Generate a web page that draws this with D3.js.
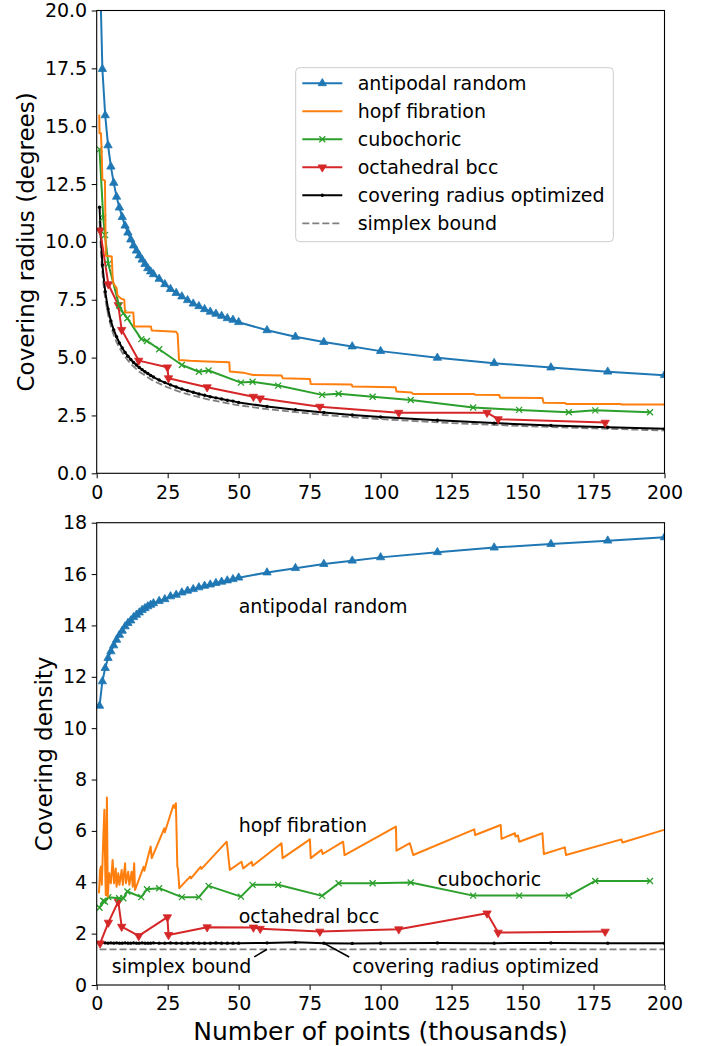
<!DOCTYPE html>
<html>
<head>
<meta charset="utf-8">
<script src="https://cdn.jsdelivr.net/npm/d3@7"></script>
<style>
  body { margin: 0; background: #fff; }
  svg { display: block; font-family: 'DejaVu Sans', sans-serif; }
</style>
</head>
<body>
<svg id="chart" width="705" height="1046"></svg>
<script>
// number of points (thousands) for the random / optimized runs
const denseN = [1, 2, 3, 4, 5, 6, 7, 8, 9, 10, 11, 12, 13, 14, 15, 16, 17, 18, 19, 20,
  22, 24, 26, 28, 30, 32, 34, 36, 38, 40, 42, 44, 46, 48, 50,
  60, 70, 80, 90, 100, 120, 140, 160, 180, 200]

const antipodalRadius = [22.5, 17.47, 15.47, 14.17, 13.25, 12.55, 11.95, 11.48, 11.07, 10.7,
  10.4, 10.1, 9.84, 9.62, 9.41, 9.23, 9.04, 8.86, 8.72, 8.6,
  8.4, 8.17, 7.96, 7.79, 7.64, 7.48, 7.33, 7.22, 7.09, 6.98,
  6.89, 6.8, 6.7, 6.63, 6.53, 6.18, 5.9, 5.67, 5.48, 5.28,
  4.99, 4.76, 4.57, 4.39, 4.24]
const antipodalDensity = [10.87, 11.82, 12.34, 12.73, 12.99, 13.22, 13.44, 13.63, 13.79, 13.96,
  14.09, 14.19, 14.32, 14.41, 14.5, 14.6, 14.67, 14.74, 14.8, 14.86,
  14.95, 15.02, 15.13, 15.19, 15.28, 15.35, 15.41, 15.48, 15.54, 15.59,
  15.65, 15.7, 15.75, 15.8, 15.86, 16.06, 16.23, 16.39, 16.52, 16.65,
  16.85, 17.03, 17.17, 17.3, 17.43]

const optimizedRadius = [11.5, 9.0, 7.85, 7.1, 6.58, 6.2, 5.9, 5.63, 5.42, 5.22,
  5.06, 4.92, 4.79, 4.68, 4.57, 4.48, 4.39, 4.31, 4.23, 4.16,
  4.03, 3.92, 3.82, 3.73, 3.64, 3.57, 3.5, 3.43, 3.37, 3.31,
  3.26, 3.21, 3.16, 3.12, 3.06, 2.89, 2.75, 2.63, 2.52, 2.43,
  2.29, 2.17, 2.07, 1.99, 1.92]
const optimizedDensity = [1.62, 1.66, 1.64, 1.63, 1.64, 1.63, 1.64, 1.63, 1.63, 1.64,
  1.63, 1.63, 1.64, 1.63, 1.63, 1.64, 1.63, 1.63, 1.63, 1.64,
  1.63, 1.63, 1.64, 1.63, 1.63, 1.63, 1.64, 1.63, 1.63, 1.63,
  1.64, 1.63, 1.63, 1.63, 1.63, 1.64, 1.66, 1.63, 1.62, 1.63,
  1.64, 1.63, 1.64, 1.63, 1.63]

const hopfRadiusN = [0.9, 1.0, 1.5, 1.8, 2.0, 2.9, 3.2, 5.3, 5.6, 5.9,
  7.0, 7.3, 7.6, 8.6, 9.7, 10.0, 12.9, 13.2, 19.1, 19.4,
  27.9, 28.5, 29.0, 32.9, 38.7, 46.7, 46.9, 51.6, 55.1, 65.1,
  65.5, 75.1, 75.4, 89.8, 90.1, 105.3, 105.6, 110.9, 111.5, 133.0,
  133.4, 141.8, 142.1, 157.0, 157.4, 165.0, 165.3, 184.6, 184.8, 200]
const hopfRadius = [15.5, 14.7, 14.7, 13.7, 12.7, 12.65, 9.4, 9.37, 8.5, 8.2,
  8.0, 7.7, 7.65, 7.55, 7.5, 6.95, 6.95, 6.34, 6.34, 6.17,
  6.12, 6.03, 4.9, 4.86, 4.83, 4.8, 4.4, 4.35, 4.25, 4.23,
  4.11, 4.08, 3.86, 3.84, 3.75, 3.72, 3.53, 3.49, 3.43, 3.43,
  3.39, 3.38, 3.27, 3.25, 3.05, 3.04, 3.0, 2.99, 2.97, 2.97]

const hopfDensityN = [0.8, 1.2, 1.5, 1.8, 2.3, 2.7, 3.0, 3.2, 3.6, 3.9,
  4.4, 5.0, 5.6, 6.1, 6.7, 7.0, 7.6, 8.0, 8.8, 9.2,
  10.0, 10.3, 11.1, 11.5, 12.3, 12.7, 13.2, 13.5, 16.5, 16.8,
  19.0, 19.4, 23.8, 24.0, 27.0, 27.3, 27.9, 28.4, 28.6, 29.1,
  32.9, 33.2, 36.6, 36.9, 45.8, 46.9, 51.0, 51.6, 54.6, 54.9,
  65.1, 65.5, 75.1, 75.4, 79.2, 79.6, 86.8, 87.3, 105.4, 105.6,
  110.3, 111.5, 133.0, 133.3, 142.3, 142.6, 147.3, 147.5, 148.4, 148.8,
  157.0, 157.5, 164.9, 165.3, 184.8, 185.2, 199.8]
const hopfDensity = [3.57, 4.48, 4.61, 3.9, 5.65, 6.82, 4.5, 3.5, 7.3, 3.44,
  4.35, 3.96, 4.87, 3.96, 4.54, 3.83, 4.35, 3.9, 4.48, 3.9,
  4.74, 3.96, 4.41, 3.9, 4.41, 3.83, 4.74, 3.7, 4.6, 4.45,
  5.39, 4.94, 6.1, 5.95, 7.0, 6.9, 7.08, 4.61, 4.55, 3.77,
  4.22, 4.15, 4.6, 4.52, 5.58, 4.48, 4.8, 4.54, 4.8, 4.64,
  5.52, 4.94, 5.67, 4.94, 5.26, 5.1, 5.58, 5.06, 6.17, 5.23,
  5.52, 5.06, 6.06, 5.84, 6.23, 5.69, 5.91, 5.78, 5.82, 5.58,
  5.91, 5.1, 5.36, 5.06, 5.67, 5.55, 6.04]

const cuboN = [1.0, 2.3, 2.9, 4.1, 7.9, 9.4, 10.8, 15.7, 17.7, 22,
  30, 36, 39.4, 50.8, 54.9, 63.9, 79.4, 85.2, 97.2, 110.6,
  132.6, 148.8, 166.3, 175.6, 194.9]
const cuboRadius = [14.0, 11.05, 10.3, 9.05, 7.25, 6.92, 6.7, 5.8, 5.72, 5.36,
  4.68, 4.39, 4.44, 3.92, 3.96, 3.79, 3.39, 3.44, 3.31, 3.17,
  2.84, 2.74, 2.64, 2.72, 2.64]
const cuboDensity = [3.01, 3.28, 3.24, 3.42, 3.38, 3.38, 3.64, 3.42, 3.73, 3.77,
  3.42, 3.42, 3.86, 3.44, 3.9, 3.9, 3.47, 3.96, 3.96, 3.99,
  3.48, 3.48, 3.48, 4.05, 4.05]

const octaN = [1.2, 4.1, 7.6, 8.8, 14.8, 24.9, 25.3, 38.9, 55.2, 57.6, 78.6, 106.4, 137.5, 141.4, 179.1]
const octaRadius = [10.5, 8.17, 7.27, 6.2, 4.87, 4.58, 4.11, 3.72, 3.31, 3.24, 2.88, 2.62, 2.62, 2.34, 2.19]
const octaDensity = [1.62, 2.43, 3.25, 2.27, 1.91, 2.64, 1.95, 2.25, 2.24, 2.19, 2.08, 2.17, 2.79, 2.04, 2.08]

const simplexN = [1, 1.5, 2, 2.5, 3, 4, 5, 6, 7, 8, 10, 12, 15, 20, 25, 30, 40, 50, 60, 80, 100, 125, 150, 175, 200]
const simplexRadius = [10.9, 9.55, 8.65, 8.05, 7.55, 6.85, 6.35, 5.97, 5.67, 5.42, 5.03, 4.73, 4.39, 3.99, 3.71,
  3.49, 3.17, 2.94, 2.77, 2.52, 2.34, 2.17, 2.04, 1.94, 1.85]
const simplexDensity = [1.39, 1.39, 1.39, 1.39, 1.39, 1.39, 1.39, 1.39, 1.39, 1.39, 1.39, 1.39, 1.39, 1.39, 1.39,
  1.39, 1.39, 1.39, 1.39, 1.39, 1.39, 1.39, 1.39, 1.39, 1.39]

const xTicks = [0, 25, 50, 75, 100, 125, 150, 175, 200]
const radiusTicks = [0, 2.5, 5, 7.5, 10, 12.5, 15, 17.5, 20]
const densityTicks = [0, 2, 4, 6, 8, 10, 12, 14, 16, 18]

const seriesNames = ['antipodal random', 'hopf fibration', 'cubochoric', 'octahedral bcc',
  'covering radius optimized', 'simplex bound']
const seriesColors = ['#1f77b4', '#ff7f0e', '#2ca02c', '#d62728', '#000000', '#808080']
const seriesMarkers = ['tri-up', null, 'cross', 'tri-down', 'dot', null]

// text labels placed on the density panel: [text, x, y, target x, target y]
const densityNotes = [
  ['antipodal random', 50, 14.5, null, null],
  ['hopf fibration', 50, 5.95, null, null],
  ['cubochoric', 120, 3.86, null, null],
  ['octahedral bcc', 50, 2.4, null, null],
  ['simplex bound', 5.3, 0.47, 60, 1.39],
  ['covering radius optimized', 90, 0.47, 80, 1.63],
]

const FONT = 19
const LABEL_FONT = 23
const svg = d3.select('#chart')

const x = d3.scaleLinear().domain([0, 200]).range([96.7, 664.5])
const yRadius = d3.scaleLinear().domain([0, 20]).range([473.3, 10.5])
const yDensity = d3.scaleLinear().domain([0, 18]).range([985, 522.7])

function zip(ns, vs) {
  return ns.map((n, i) => [n, vs[i]])
}

function drawMarker(sel, kind, color) {
  if (kind === 'tri-up' || kind === 'tri-down') {
    sel.append('path')
      .attr('d', d3.symbol(d3.symbolTriangle, 30)())
      .attr('transform', kind === 'tri-down' ? 'rotate(180)' : null)
      .attr('fill', color)
      .attr('stroke', color)
      .attr('stroke-width', 0.8)
  } else if (kind === 'cross') {
    sel.append('path')
      .attr('d', 'M-3,-3L3,3M-3,3L3,-3')
      .attr('stroke', color)
      .attr('stroke-width', 1.3)
      .attr('fill', 'none')
  } else if (kind === 'dot') {
    sel.append('circle')
      .attr('r', 1.7)
      .attr('fill', color)
  }
}

function drawPanel({ id, y, ticks, fmt, label, labelX, series }) {
  const [y0, y1] = y.range()
  const [x0, x1] = x.range()
  const g = svg.append('g').attr('class', `panel-${id}`)

  g.append('clipPath').attr('id', `clip-${id}`)
    .append('rect')
    .attr('x', x0).attr('y', y1)
    .attr('width', x1 - x0).attr('height', y0 - y1)

  const plot = g.append('g').attr('clip-path', `url(#clip-${id})`)
  const line = d3.line().x((d) => x(d[0])).y((d) => y(d[1]))

  // draw in reverse so the first series ends up on top, like the source
  series.slice().reverse().forEach((s) => {
    plot.append('path')
      .datum(s.points)
      .attr('d', line)
      .attr('fill', 'none')
      .attr('stroke', s.color)
      .attr('stroke-width', s.dash ? 1.8 : 2)
      .attr('stroke-dasharray', s.dash ? '7,3' : null)
      .attr('stroke-linejoin', 'round')

    if (!s.marker) return
    plot.append('g').selectAll('g')
      .data(s.points)
      .join('g')
      .attr('transform', (d) => `translate(${x(d[0])},${y(d[1])})`)
      .each(function () { drawMarker(d3.select(this), s.marker, s.color) })
  })

  const xAxis = g.append('g')
    .attr('transform', `translate(0,${y0})`)
    .call(d3.axisBottom(x).tickValues(xTicks).tickSize(5).tickPadding(7).tickFormat(d3.format('d')))
  const yAxis = g.append('g')
    .attr('transform', `translate(${x0},0)`)
    .call(d3.axisLeft(y).tickValues(ticks).tickSize(5).tickPadding(4.5).tickFormat(fmt))

  ;[xAxis, yAxis].forEach((a) => {
    a.select('.domain').remove()
    a.selectAll('text').attr('font-size', FONT).attr('font-family', 'DejaVu Sans').attr('fill', '#000')
    a.selectAll('line').attr('stroke', '#000')
  })

  g.append('rect')
    .attr('x', x0).attr('y', y1)
    .attr('width', x1 - x0).attr('height', y0 - y1)
    .attr('fill', 'none')
    .attr('stroke', '#000')
    .attr('stroke-width', 1.1)

  g.append('text')
    .attr('transform', `translate(${labelX},${(y0 + y1) / 2}) rotate(-90)`)
    .attr('text-anchor', 'middle')
    .attr('font-size', LABEL_FONT)
    .text(label)

  return g
}

function buildSeries(lists) {
  return lists.map((points, i) => ({
    points,
    color: seriesColors[i],
    marker: seriesMarkers[i],
    dash: i === 5,
  }))
}

const radiusSeries = buildSeries([
  zip(denseN, antipodalRadius),
  zip(hopfRadiusN, hopfRadius),
  zip(cuboN, cuboRadius),
  zip(octaN, octaRadius),
  zip(denseN, optimizedRadius),
  zip(simplexN, simplexRadius),
])

const densitySeries = buildSeries([
  zip(denseN, antipodalDensity),
  zip(hopfDensityN, hopfDensity),
  zip(cuboN, cuboDensity),
  zip(octaN, octaDensity),
  zip(denseN, optimizedDensity),
  zip(simplexN, simplexDensity),
])

drawPanel({
  id: 'radius',
  y: yRadius,
  ticks: radiusTicks,
  fmt: d3.format('.1f'),
  label: 'Covering radius (degrees)',
  labelX: 34,
  series: radiusSeries,
})

const bottomPanel = drawPanel({
  id: 'density',
  y: yDensity,
  ticks: densityTicks,
  fmt: d3.format('d'),
  label: 'Covering density',
  labelX: 52,
  series: densitySeries,
})

// Legend (top panel)
const legend = svg.append('g').attr('class', 'legend')
legend.append('rect')
  .attr('x', 295.7).attr('y', 67.7)
  .attr('width', 317.6).attr('height', 174)
  .attr('rx', 4)
  .attr('fill', '#fff')
  .attr('fill-opacity', 0.8)
  .attr('stroke', '#cccccc')
  .attr('stroke-width', 1)

seriesNames.forEach((name, i) => {
  const cy = 83.3 + i * 28
  const row = legend.append('g')
  row.append('line')
    .attr('x1', 302.3).attr('x2', 342.3)
    .attr('y1', cy).attr('y2', cy)
    .attr('stroke', seriesColors[i])
    .attr('stroke-width', i === 5 ? 1.8 : 2)
    .attr('stroke-dasharray', i === 5 ? '7,3' : null)
  if (seriesMarkers[i]) {
    drawMarker(row.append('g').attr('transform', `translate(322.3,${cy})`), seriesMarkers[i], seriesColors[i])
  }
  row.append('text')
    .attr('x', 357.7).attr('y', cy)
    .attr('dy', '0.36em')
    .attr('font-size', FONT)
    .text(name)
})

// Annotations (bottom panel)
densityNotes.forEach(([text, tx, ty, px, py]) => {
  const t = bottomPanel.append('text')
    .attr('x', x(tx)).attr('y', yDensity(ty))
    .attr('font-size', FONT)
    .text(text)
  if (px === null) return
  const bb = t.node().getBBox()
  const sx = x(px) < bb.x ? bb.x - 3 : bb.x + bb.width + 3
  bottomPanel.append('line')
    .attr('x1', sx).attr('y1', bb.y + 2)
    .attr('x2', x(px)).attr('y2', yDensity(py))
    .attr('stroke', '#000')
    .attr('stroke-width', 1.6)
})

svg.append('text')
  .attr('x', (x.range()[0] + x.range()[1]) / 2)
  .attr('y', 1040)
  .attr('text-anchor', 'middle')
  .attr('font-size', 25)
  .text('Number of points (thousands)')
</script>
</body>
</html>
